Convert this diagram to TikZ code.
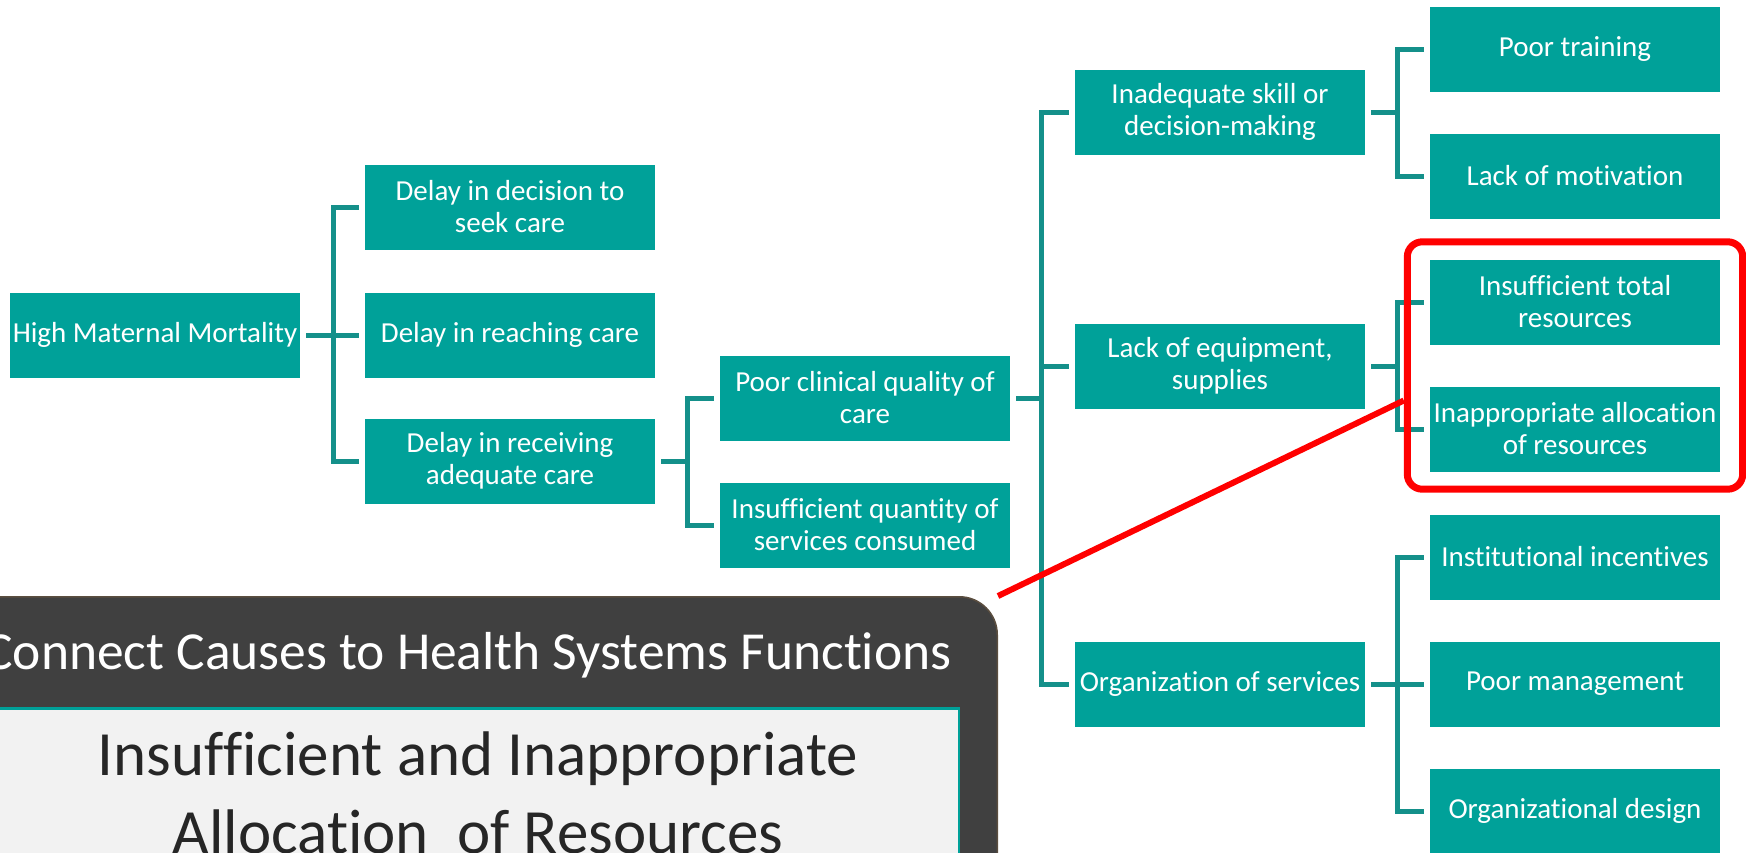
\documentclass[tikz,border=0pt]{standalone}
\usepackage{fontspec}
\setmainfont{Carlito}[Ligatures=NoCommon, Contextuals=NoAlternate]
\definecolor{boxteal}{HTML}{00A199}
\definecolor{linkteal}{HTML}{14908A}
\definecolor{panelgray}{HTML}{404040}
\definecolor{paneledge}{HTML}{5B4E3F}
\definecolor{paperlight}{HTML}{F2F2F2}
\definecolor{inkgray}{HTML}{262626}
\tikzset{cause/.style = {rectangle, fill=boxteal, text=white, minimum width=290pt, minimum height=85pt, inner sep=0pt, align=center, font=\fontsize{29}{32}\selectfont},
         link/.style = {draw=linkteal, line width=5pt},
         gap/.style = {shorten <=6pt, shorten >=6pt},
         alert/.style = {draw=red, line width=7pt, rounded corners=15pt}}
\usetikzlibrary{fit}

\begin{document}
\begin{tikzpicture}[x=1pt, y=-1pt]
\useasboundingbox (0,0) rectangle (1746,852);
\clip (0,0) rectangle (1746,852);
\node[cause] (hmm) at (155,335) {High Maternal Mortality};
\node[cause] (d1) at (510,207) {Delay in decision to\\seek care};
\node[cause] (d2) at (510,335) {Delay in reaching care};
\node[cause] (d3) at (510,461) {Delay in receiving\\adequate care};
\node[cause] (c1) at (865,398) {Poor clinical quality of\\care};
\node[cause] (c2) at (865,525) {Insufficient quantity of\\services consumed};
\node[cause] (s1) at (1220,112) {Inadequate skill or\\decision-making};
\node[cause] (s2) at (1220,366) {Lack of equipment,\\supplies};
\node[cause] (s3) at (1220,684) {Organization of services};
\node[cause] (r1) at (1575,49) {Poor training};
\node[cause] (r2) at (1575,176) {Lack of motivation};
\node[cause] (r3) at (1575,302) {Insufficient total\\resources};
\node[cause] (r4) at (1575,429) {Inappropriate allocation\\of resources};
\node[cause] (r5) at (1575,557) {Institutional incentives};
\node[cause] (r6) at (1575,684) {Poor management};
\node[cause] (r7) at (1575,811) {Organizational design};
\coordinate (b1) at (333,0);
\coordinate (b2) at (687,0);
\coordinate (b3) at (1041,0);
\coordinate (b4) at (1397,0);
\draw[link, shorten <=6pt] (hmm.east) -- (hmm.east -| b1);
\draw[link, gap] (d1.west) -- (d1.west -| b1) -- (d3.west -| b1) -- (d3.west);
\draw[link, shorten <=6pt] (d2.west) -- (d2.west -| b1);
\draw[link, shorten <=6pt] (d3.east) -- (d3.east -| b2);
\draw[link, gap] (c1.west) -- (c1.west -| b2) -- (c2.west -| b2) -- (c2.west);
\draw[link, shorten <=6pt] (c1.east) -- (c1.east -| b3);
\draw[link, gap] (s1.west) -- (s1.west -| b3) -- (s3.west -| b3) -- (s3.west);
\draw[link, shorten <=6pt] (s2.west) -- (s2.west -| b3);
\draw[link, shorten <=6pt] (s1.east) -- (s1.east -| b4);
\draw[link, gap] (r1.west) -- (r1.west -| b4) -- (r2.west -| b4) -- (r2.west);
\draw[link, shorten <=6pt] (s2.east) -- (s2.east -| b4);
\draw[link, gap] (r3.west) -- (r3.west -| b4) -- (r4.west -| b4) -- (r4.west);
\draw[link, shorten <=6pt] (s3.east) -- (s3.east -| b4);
\draw[link, gap] (r5.west) -- (r5.west -| b4) -- (r7.west -| b4) -- (r7.west);
\draw[link, shorten <=6pt] (r6.west) -- (r6.west -| b4);
\node[alert, fit=(r3)(r4), inner xsep=22.5pt, inner ysep=17.5pt] (focus) {};
\node[fill=panelgray, draw=paneledge, line width=1.5pt, rounded corners=38pt, anchor=north east, minimum width=1060pt, minimum height=330pt] (panel) at (998,596) {};
\node[anchor=base, text=white, font=\fontsize{53.5}{60}\selectfont] (title) at (468,669) {Connect Causes to Health Systems Functions};
\node[fill=paperlight, draw=boxteal, line width=2.5pt, anchor=north east, minimum width=1060pt, minimum height=200pt] (paper) at (960,707) {};
\node[anchor=base, align=center, text=inkgray, font=\fontsize{63}{78}\selectfont] (goal) at (478,853) {Insufficient and Inappropriate\\Allocation\ \ of Resources};
\draw[draw=red, line width=6pt] (panel.north east) -- ([yshift=-35pt]focus.west);
\end{tikzpicture}
\end{document}
